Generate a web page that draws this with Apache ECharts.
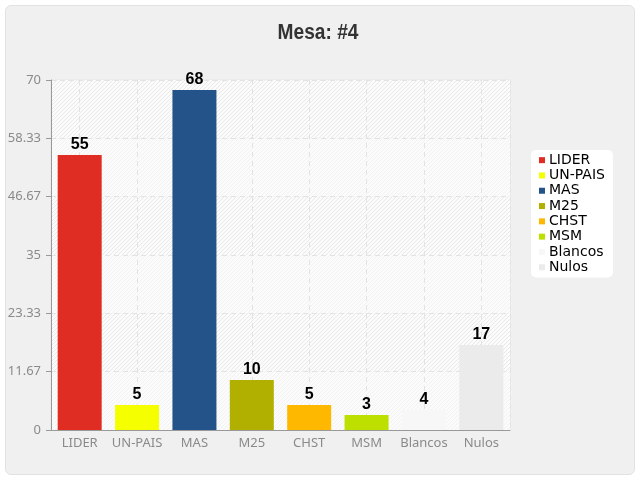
<!DOCTYPE html>
<html>
<head>
<meta charset="utf-8">
<script src="https://cdn.jsdelivr.net/npm/echarts@6/dist/echarts.min.js"></script>
<style>
html,body{margin:0;padding:0;background:#ffffff;}
#panel{position:absolute;left:5px;top:5px;width:628px;height:468px;background:#f0f0f0;border:1px solid #e2e2e2;border-radius:6px;}
#chart{position:absolute;left:0;top:0;width:640px;height:480px;}
</style>
</head>
<body>
<div id="panel"></div>
<div id="chart"></div>
<script>
var titleText = 'Mesa: #4';
var categories = ['LIDER','UN-PAIS','MAS','M25','CHST','MSM','Blancos','Nulos'];
var values = [55, 5, 68, 10, 5, 3, 4, 17];
var colors = ['#e02d24','#f5ff00','#235388','#b1b000','#ffb800','#bde000','#f7f7f7','#ebebeb'];
var yTicks = [0, 11.67, 23.33, 35, 46.67, 58.33, 70];

function makePattern(bg, fg){
  var c = document.createElement('canvas');
  c.width = 4; c.height = 4;
  var ctx = c.getContext('2d');
  ctx.fillStyle = bg; ctx.fillRect(0,0,4,4);
  ctx.fillStyle = fg;
  for (var x=0;x<4;x++) for (var y=0;y<4;y++) if ((x+y)%4===0) ctx.fillRect(x,y,1,1);
  return {image: c, repeat: 'repeat'};
}
var hatchStrong = makePattern('#fbfbfb', '#e9e9e9');
var hatchLight = makePattern('#fbfbfb', '#f2f2f2');

var boldFont = '"Liberation Sans",Arial,sans-serif';
var axisFont = '"Noto Sans","DejaVu Sans",sans-serif';
var gridDetail = [];
for (var i=0;i<categories.length*2;i++) gridDetail.push(String(i));

var series = categories.map(function(name, k){
  return {
    name: name,
    type: 'bar',
    stack: 'all',
    barWidth: 44,
    xAxisIndex: 0,
    itemStyle: {color: colors[k]},
    label: {show: true, position: 'top', distance: 2, color: '#000', fontFamily: boldFont, fontWeight: 'bold', fontSize: 16},
    data: values.map(function(v, i){ return i === k ? v : '-'; })
  };
});

var chart = echarts.init(document.getElementById('chart'), null, {renderer: 'canvas'});
chart.setOption({
  animation: false,
  backgroundColor: 'transparent',
  graphic: [{
    type: 'text', x: 318, y: 33, scaleX: 0.87, scaleY: 1,
    style: {text: titleText, x: 0, y: 0, textAlign: 'center', textVerticalAlign: 'middle',
      font: 'bold 22px "Liberation Sans", Arial, sans-serif', fill: '#333'}
  }],
  legend: {
    orient: 'vertical', left: 531, top: 150,
    data: categories,
    backgroundColor: '#ffffff', borderRadius: 5,
    padding: [3, 8, 3, 8],
    icon: 'rect', itemWidth: 6, itemHeight: 6, itemGap: 1,
    textStyle: {fontFamily: '"DejaVu Sans",Verdana,sans-serif', fontSize: 14, color: '#000', lineHeight: 14.3, padding: [0,0,0,-1]},
    selectedMode: false
  },
  grid: {left: 51, right: 130, top: 80, bottom: 50, show: true, borderColor: '#e6e6e6', borderWidth: 1, backgroundColor: 'transparent'},
  xAxis: [{
    type: 'category', data: categories,
    axisLine: {lineStyle: {color: '#999'}},
    axisTick: {alignWithLabel: true, length: 5, lineStyle: {color: '#999'}},
    axisLabel: {interval: 0, color: '#8a8a8a', fontFamily: axisFont, fontSize: 13, margin: 7},
    splitLine: {show: false}
  }, {
    type: 'category', data: gridDetail, position: 'top',
    axisLine: {show: false}, axisTick: {show: false}, axisLabel: {show: false},
    splitLine: {show: true, interval: function(idx){ return idx % 2 === 1; }, lineStyle: {color: '#e3e3e3', type: [5, 4], width: 1}}
  }],
  yAxis: {
    type: 'value', min: 0, max: 70, interval: 70/6,
    axisLine: {show: true, lineStyle: {color: '#999'}},
    axisTick: {show: true, length: 5, lineStyle: {color: '#999'}},
    axisLabel: {color: '#8a8a8a', fontFamily: axisFont, fontSize: 13, margin: 10,
      formatter: function(v){
        var best = yTicks[0];
        yTicks.forEach(function(t){ if (Math.abs(t - v) < Math.abs(best - v)) best = t; });
        return String(best);
      }},
    splitLine: {show: true, lineStyle: {color: '#e3e3e3', type: [5, 4], width: 1}},
    splitArea: {show: true, areaStyle: {color: [hatchLight, hatchStrong]}}
  },
  series: series
});
</script>
</body>
</html>
